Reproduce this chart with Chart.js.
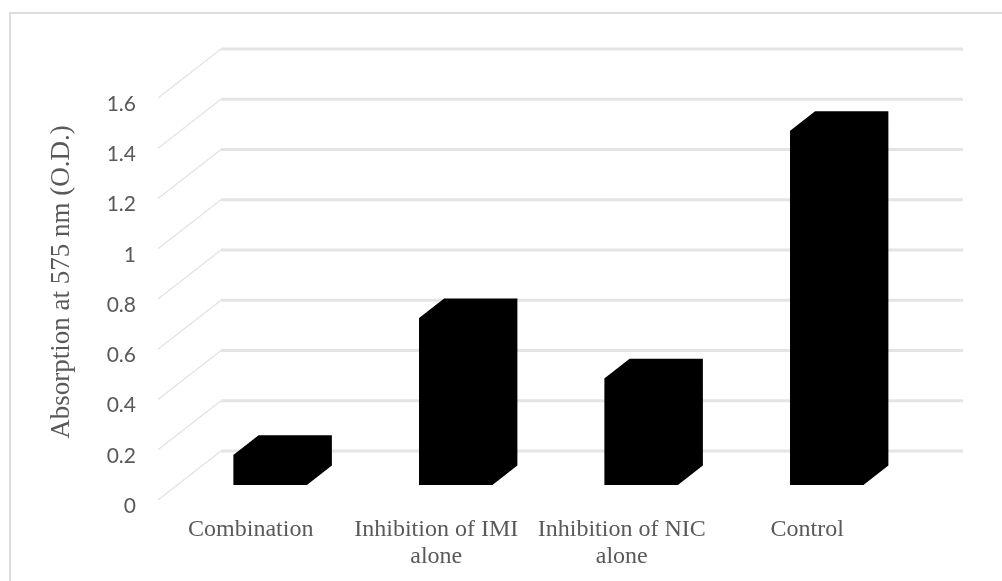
<!DOCTYPE html>
<html>
<head>
<meta charset="utf-8">
<style>
  html, body { margin: 0; background: #fff; }
  #wrap { width: 1002px; height: 581px; }
</style>
<script src="https://cdn.jsdelivr.net/npm/chart.js@4"></script>
</head>
<body>
<div id="wrap"><canvas id="chart"></canvas></div>
<script>
const categories = ['Combination', ['Inhibition of IMI', 'alone'], ['Inhibition of NIC', 'alone'], 'Control'];
const absorption = [0.12, 0.665, 0.425, 1.41];
const yTitle = 'Absorption at 575 nm (O.D.)';

const grey = '#595959';
const gridColor = '#e4e4e4';

// back wall offset from the front plane (the 3D look of the original)
const wallDx = 63, wallDy = -49;
// bars stand a bit behind the front plane
const barDx = 19.5, barDy = -15;
// depth of the bar itself
const depthDx = 25, depthDy = -19.5;

const frame3d = {
    id: 'frame3d',
    beforeDatasetsDraw(chart) {
        const { ctx, scales: { y }, chartArea: a } = chart;
        ctx.save();
        // outer frame, only top and left show in the crop
        ctx.strokeStyle = '#dddddd';
        ctx.lineWidth = 2;
        ctx.strokeRect(10, 13, 1002, 581);
        // gridlines: diagonal on the floor side, then along the back wall
        ctx.strokeStyle = gridColor;
        y.ticks.forEach(t => {
            const py = y.getPixelForValue(t.value);
            ctx.lineWidth = 1.5;
            ctx.beginPath();
            ctx.moveTo(a.left, py);
            ctx.lineTo(a.left + wallDx, py + wallDy);
            ctx.stroke();
            ctx.lineWidth = 3;
            ctx.beginPath();
            ctx.moveTo(a.left + wallDx, py + wallDy);
            ctx.lineTo(a.right + wallDx, py + wallDy);
            ctx.stroke();
        });
        // y title
        ctx.fillStyle = grey;
        ctx.font = '27px "Liberation Serif"';
        ctx.textAlign = 'center';
        ctx.textBaseline = 'middle';
        ctx.translate(62, 282);
        ctx.rotate(-Math.PI / 2);
        ctx.fillText(yTitle, 0, 0);
        ctx.restore();

        // bars get drawn shifted back from the front plane
        ctx.save();
        ctx.translate(barDx, barDy);
        chart.getDatasetMeta(0).data.forEach(bar => {
            const l = bar.x - bar.width / 2, r = bar.x + bar.width / 2;
            ctx.fillStyle = '#000';
            ctx.beginPath();
            ctx.moveTo(l, bar.base);
            ctx.lineTo(l, bar.y);
            ctx.lineTo(l + depthDx, bar.y + depthDy);
            ctx.lineTo(r + depthDx, bar.y + depthDy);
            ctx.lineTo(r + depthDx, bar.base + depthDy);
            ctx.lineTo(r, bar.base);
            ctx.closePath();
            ctx.fill();
        });
    },
    afterDatasetsDraw(chart) {
        chart.ctx.restore();
    }
};

new Chart(document.getElementById('chart'), {
    type: 'bar',
    data: {
        labels: categories,
        datasets: [{
            label: 'Absorption',
            data: absorption,
            backgroundColor: '#000',
            categoryPercentage: 1,
            barPercentage: 0.395
        }]
    },
    options: {
        responsive: true,
        maintainAspectRatio: false,
        animation: false,
        layout: { padding: { left: 0, right: 102, top: 98, bottom: 0 } },
        plugins: { legend: { display: false }, title: { display: false }, tooltip: { enabled: false } },
        scales: {
            x: {
                grid: { display: false },
                border: { display: false },
                afterFit(s) { s.height = 81; },
                ticks: {
                    color: grey,
                    padding: 8,
                    maxRotation: 0,
                    autoSkip: false,
                    font: { family: '"Liberation Serif"', size: 24, lineHeight: 1.125 }
                }
            },
            y: {
                min: 0,
                max: 1.6,
                grid: { display: false },
                border: { display: false },
                afterFit(s) { s.width = 158; },
                ticks: {
                    stepSize: 0.2,
                    color: grey,
                    padding: 14,
                    labelOffset: 6,
                    font: { family: 'Lato', size: 21 },
                    callback: v => String(Math.round(v * 10) / 10)
                }
            }
        }
    },
    plugins: [frame3d]
});
</script>
</body>
</html>
